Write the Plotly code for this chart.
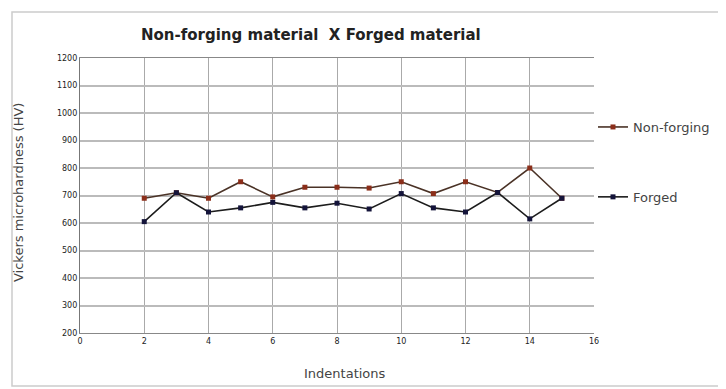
import plotly.graph_objects as go

indentations = [2, 3, 4, 5, 6, 7, 8, 9, 10, 11, 12, 13, 14, 15]
non_forging = [690, 710, 690, 750, 695, 730, 730, 727, 750, 707, 750, 711, 800, 690]
forged = [605, 710, 640, 655, 675, 655, 672, 651, 707, 655, 640, 711, 615, 690]

x_ticks = [0, 2, 4, 6, 8, 10, 12, 14, 16]
y_ticks = list(range(200, 1300, 100))

OFF = 8  # page body margin
W, H = 726 - OFF, 389 - OFF
L, T = 80 - OFF, 58 - OFF
pw, ph = 514, 275
R, B = W - L - pw, H - T - ph

def px(x):
    return (x - OFF - L) / pw

def py(y):
    return (T + ph - (y - OFF)) / ph

FONT = "DejaVu Sans, Liberation Sans, Arial, sans-serif"

fig = go.Figure()
fig.add_trace(go.Scatter(
    x=indentations, y=non_forging, name="Non-forging", mode="lines+markers",
    line=dict(color="#4a3226", width=1.6),
    marker=dict(color="#8b2e1a", size=5, symbol="square"),
    legendgroup="a"))
fig.add_trace(go.Scatter(
    x=indentations, y=forged, name="Forged", mode="lines+markers",
    line=dict(color="#1c1c1c", width=1.6),
    marker=dict(color="#14143a", size=5, symbol="square"),
    legendgroup="b"))

fig.update_layout(
    width=W, height=H,
    margin=dict(l=L, r=R, t=T, b=B, autoexpand=False),
    paper_bgcolor="white", plot_bgcolor="white",
    font=dict(family=FONT, color="#333"),
    showlegend=True,
    legend=dict(x=px(593), y=py(112), xanchor="left", yanchor="top",
                font=dict(size=13, color="#444", family=FONT), tracegroupgap=50,
                traceorder="grouped", bgcolor="rgba(0,0,0,0)", itemwidth=30),
    xaxis=dict(range=[0, 16], tickvals=x_ticks, ticktext=[str(v) for v in x_ticks],
               showgrid=True, gridcolor="#aaaaaa", gridwidth=1,
               showline=True, linecolor="#888", linewidth=1, mirror=True,
               tickfont=dict(size=8, color="#222", family=FONT), ticks="", zeroline=False),
    yaxis=dict(range=[200, 1200], tickvals=y_ticks, ticktext=[str(v) for v in y_ticks],
               showgrid=True, gridcolor="#bbbbbb", gridwidth=1.5,
               showline=True, linecolor="#777", linewidth=1.2, mirror=False,
               tickfont=dict(size=8, color="#222", family=FONT), ticks="", zeroline=False),
    annotations=[
        dict(text="<b>Non-forging material  X Forged material</b>", x=px(311), y=py(35),
             xref="paper", yref="paper", showarrow=False, xanchor="center", yanchor="middle",
             font=dict(size=15, color="#222", family=FONT)),
        dict(text="Vickers microhardness (HV)", x=px(18), y=py(193), textangle=-90,
             xref="paper", yref="paper", showarrow=False, xanchor="center", yanchor="middle",
             font=dict(size=13, color="#444", family=FONT)),
        dict(text="Indentations", x=px(345), y=py(373),
             xref="paper", yref="paper", showarrow=False, xanchor="center", yanchor="middle",
             font=dict(size=13, color="#444", family=FONT)),
    ],
    shapes=[dict(type="rect", xref="paper", yref="paper",
                 x0=px(12), x1=px(730), y0=py(386), y1=py(12),
                 line=dict(color="#cccccc", width=1.5))],
)

fig.write_html("out.html")
